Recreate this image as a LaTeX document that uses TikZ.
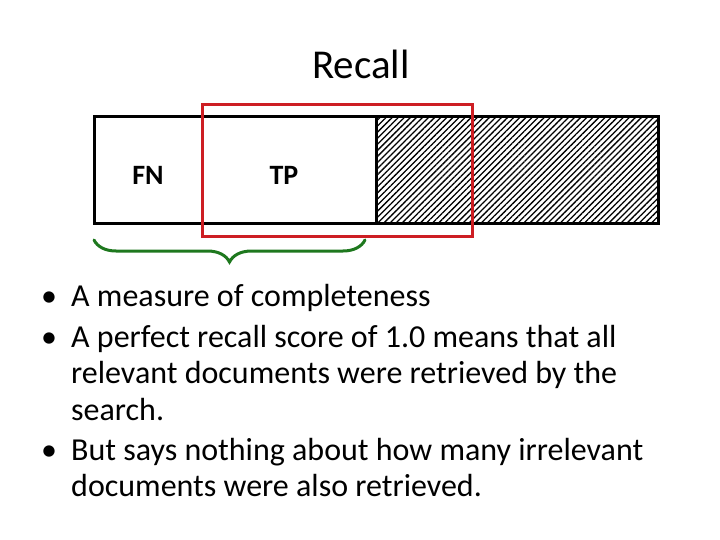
\documentclass[tikz,border=0pt]{standalone}
\usepackage{fontspec}
\setmainfont{Carlito}
\usepackage{tikz}
\usetikzlibrary{positioning,calc,patterns.meta,decorations.pathreplacing}
\tikzset{BOX/.style={draw=black,line width=3pt}}
\tikzset{HATCH/.style={pattern={Lines[angle=45,distance=4.3pt,line width=1.3pt]}}}
\tikzset{LABEL/.style={font=\fontsize{28}{32}\selectfont\bfseries,inner sep=0pt}}
\tikzset{SELECT/.style={draw={rgb,255:red,205;green,30;blue,35},line width=3pt}}
\tikzset{BRACE/.style={draw={rgb,255:red,30;green,120;blue,30},line width=3pt,line cap=round,decorate,decoration={brace,mirror,amplitude=22pt}}}
\tikzset{BULLET/.style={anchor=base west,inner sep=0pt,align=left,font=\fontsize{32}{36.5}\selectfont}}

\begin{document}
\begin{tikzpicture}[x=1pt,y=-1pt]
\useasboundingbox (0,0) rectangle (720,540);

\node[anchor=base,inner sep=0pt,font=\fontsize{41}{48}\selectfont] (n_title) at (361,79) {Recall};

\coordinate (c_box_0) at (94,117);
\coordinate (c_box_1) at (376,224);
\coordinate (c_box_2) at (658,224);
\draw[BOX] (c_box_0) rectangle (c_box_1);
\draw[BOX,HATCH] (c_box_0-|c_box_1) rectangle (c_box_2);

\node[LABEL] (n_fn) at (148,175) {FN};
\node[LABEL] (n_tp) at (284,175) {TP};

\draw[SELECT] (202.5,105) rectangle (472,236.5);

\coordinate (c_brace_0) at (94,240);
\coordinate (c_brace_1) at (365,240);
\draw[BRACE] (c_brace_0) -- (c_brace_1);

% base anchor of a multi-line node sits on its last line
\node[BULLET] (n_item1) at (71,306) {A measure of completeness};
\node[BULLET] (n_item2) at (71,420) {A perfect recall score of 1.0 means that all\\relevant documents were retrieved by the\\search.};
\node[BULLET] (n_item3) at (71,496.5) {But says nothing about how many irrelevant\\documents were also retrieved.};

\foreach \y in {306,347,460}
  \node[BULLET,anchor=base] at (49,\y) {•};

\end{tikzpicture}
\end{document}
